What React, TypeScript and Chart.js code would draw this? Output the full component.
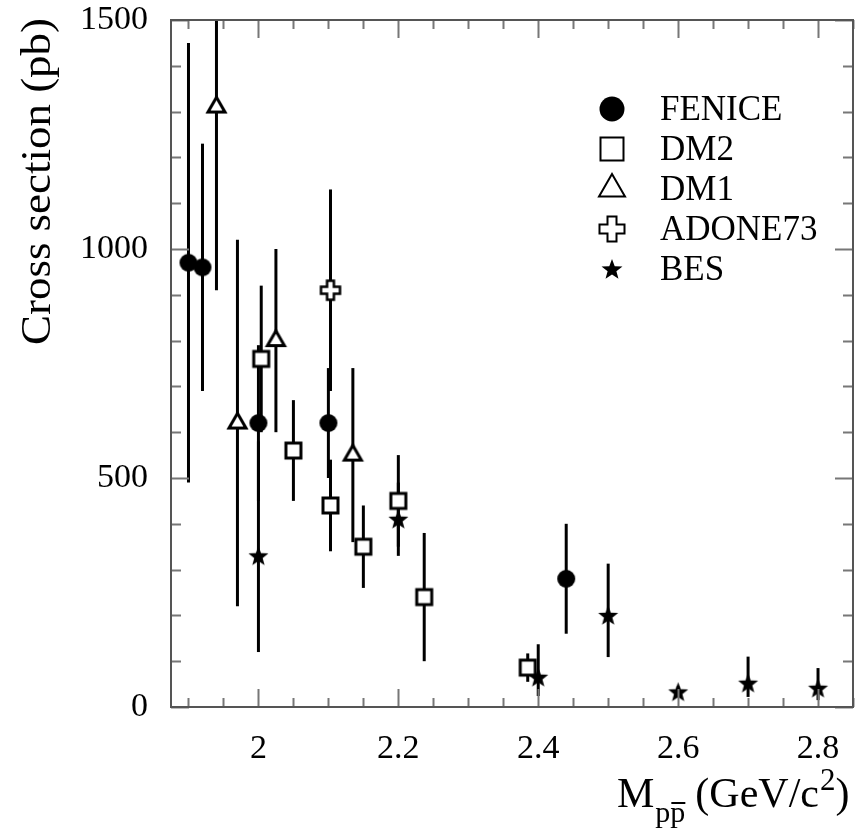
import React, { useEffect, useRef } from "react";
import { Chart, registerables } from "chart.js";

Chart.register(...registerables);

// ---------- data ----------
const FENICE_X = [1.9, 1.92, 2.0, 2.1, 2.44];
const FENICE_Y = [970, 960, 620, 620, 280];
const FENICE_UP = [480, 270, 170, 120, 120];
const FENICE_DN = [480, 270, 170, 120, 120];

const DM2_X = [2.004, 2.05, 2.103, 2.15, 2.2, 2.237, 2.385];
const DM2_Y = [760, 560, 440, 350, 450, 240, 86];
const DM2_UP = [160, 110, 100, 90, 100, 140, 31];
const DM2_DN = [160, 110, 100, 90, 100, 140, 31];

const DM1_X = [1.94, 1.97, 2.025, 2.135];
const DM1_Y = [1310, 620, 800, 550];
const DM1_UP = [400, 400, 200, 190];
const DM1_DN = [400, 400, 200, 190];

const ADONE_X = [2.103];
const ADONE_Y = [910];
const ADONE_UP = [220];
const ADONE_DN = [220];

const BES_X = [2.0, 2.2, 2.4, 2.5, 2.6, 2.7, 2.8];
const BES_Y = [330, 410, 65, 200, 33, 52, 41];
const BES_UP = [250, 80, 72, 113, 12, 58, 44];
const BES_DN = [210, 80, 41, 91, 12, 30, 26];

const SERIES_NAMES = ["FENICE", "DM2", "DM1", "ADONE73", "BES"];
const X_TICKS = [2.0, 2.2, 2.4, 2.6, 2.8];
const Y_TICKS = [0, 500, 1000, 1500];
const X_MIN = 1.875;
const X_MAX = 2.85;
const Y_MIN = 0;
const Y_MAX = 1500;
const Y_TITLE = "Cross section (pb)";

const FONT = "'Liberation Serif', 'DejaVu Serif', serif";

type MarkerType = "circle" | "square" | "triangle" | "cross" | "star";

function drawMarker(ctx: CanvasRenderingContext2D, type: MarkerType, x: number, y: number, s: number, lw: number) {
  ctx.save();
  ctx.lineWidth = lw;
  ctx.strokeStyle = "#000";
  ctx.lineJoin = "miter";
  ctx.beginPath();
  if (type === "circle") {
    ctx.arc(x, y, s / 2, 0, Math.PI * 2);
    ctx.fillStyle = "#000";
    ctx.fill();
  } else if (type === "square") {
    ctx.rect(x - s / 2, y - s / 2, s, s);
    ctx.fillStyle = "#fff";
    ctx.fill();
    ctx.stroke();
  } else if (type === "triangle") {
    const h = s * 0.866;
    ctx.moveTo(x, y - (h * 2) / 3);
    ctx.lineTo(x + s / 2, y + h / 3);
    ctx.lineTo(x - s / 2, y + h / 3);
    ctx.closePath();
    ctx.fillStyle = "#fff";
    ctx.fill();
    ctx.stroke();
  } else if (type === "cross") {
    const r = s / 2;
    const a = s * 0.18;
    const pts = [
      [-a, -r], [a, -r], [a, -a], [r, -a], [r, a], [a, a],
      [a, r], [-a, r], [-a, a], [-r, a], [-r, -a], [-a, -a],
    ];
    pts.forEach((p, i) => (i === 0 ? ctx.moveTo(x + p[0], y + p[1]) : ctx.lineTo(x + p[0], y + p[1])));
    ctx.closePath();
    ctx.fillStyle = "#fff";
    ctx.fill();
    ctx.stroke();
  } else if (type === "star") {
    const R = s / 2;
    const ri = R * 0.42;
    for (let i = 0; i < 10; i++) {
      const ang = -Math.PI / 2 + (i * Math.PI) / 5;
      const rr = i % 2 === 0 ? R : ri;
      const px = x + rr * Math.cos(ang);
      const py = y + rr * Math.sin(ang) + R * 0.08;
      if (i === 0) ctx.moveTo(px, py);
      else ctx.lineTo(px, py);
    }
    ctx.closePath();
    ctx.fillStyle = "#000";
    ctx.fill();
  }
  ctx.restore();
}

function markerCanvas(type: MarkerType, s: number, lw: number): HTMLCanvasElement {
  const c = document.createElement("canvas");
  const d = Math.ceil(s + lw * 2 + 4);
  c.width = d;
  c.height = d;
  const ctx = c.getContext("2d")!;
  drawMarker(ctx, type, d / 2, d / 2, s, lw);
  return c;
}

function toPoints(xs: number[], ys: number[], up: number[], dn: number[]) {
  return xs.map((x, i) => ({ x, y: ys[i], up: up[i], dn: dn[i] }));
}

const framePlugin = {
  id: "frameAndExtras",
  beforeDatasetsDraw(chart: any) {
    const { ctx, scales } = chart;
    const xs = scales.x;
    const ys = scales.y;
    ctx.save();
    ctx.strokeStyle = "#000";
    ctx.lineWidth = 3;
    ctx.lineCap = "butt";
    chart.data.datasets.forEach((ds: any) => {
      ds.data.forEach((p: any) => {
        const px = xs.getPixelForValue(p.x);
        const top = Math.max(ys.getPixelForValue(p.y + p.up), chart.chartArea.top);
        const bot = Math.min(ys.getPixelForValue(p.y - p.dn), chart.chartArea.bottom);
        ctx.beginPath();
        ctx.moveTo(px, top);
        ctx.lineTo(px, bot);
        ctx.stroke();
      });
    });
    ctx.restore();
  },
  afterDraw(chart: any) {
    const { ctx, scales, chartArea } = chart;
    const { left, right, top, bottom } = chartArea;
    const xs = scales.x;
    const ys = scales.y;
    ctx.save();
    // ticks
    ctx.strokeStyle = "#777";
    ctx.lineWidth = 2;
    for (let k = 38; k <= 57; k++) {
      const v = k * 0.05;
      const px = Math.round(xs.getPixelForValue(v)) + 0.5;
      const major = k % 4 === 0;
      const len = major ? 18 : 9;
      ctx.beginPath();
      ctx.moveTo(px, bottom);
      ctx.lineTo(px, bottom - len);
      ctx.moveTo(px, top);
      ctx.lineTo(px, top + len);
      ctx.stroke();
    }
    for (let k = 0; k <= 15; k++) {
      const v = k * 100;
      const py = Math.round(ys.getPixelForValue(v)) + 0.5;
      const major = k % 5 === 0;
      const len = major ? 18 : 10;
      ctx.beginPath();
      ctx.moveTo(left, py);
      ctx.lineTo(left + len, py);
      ctx.moveTo(right, py);
      ctx.lineTo(right - len, py);
      ctx.stroke();
    }
    // frame
    ctx.strokeStyle = "#555";
    ctx.lineWidth = 2;
    ctx.strokeRect(left, top, right - left, bottom - top);

    // y title
    ctx.fillStyle = "#000";
    ctx.save();
    ctx.font = `42px ${FONT}`;
    const tw = ctx.measureText(Y_TITLE).width;
    ctx.translate(50, 345);
    ctx.rotate(-Math.PI / 2);
    ctx.scale(327 / tw, 1);
    ctx.textAlign = "left";
    ctx.textBaseline = "alphabetic";
    ctx.fillText(Y_TITLE, 0, 0);
    ctx.restore();

    // x title: M_{p p̄} (GeV/c^2)
    ctx.save();
    ctx.textBaseline = "alphabetic";
    ctx.textAlign = "left";
    let x = 617;
    const base = 807;
    ctx.font = `42px ${FONT}`;
    ctx.fillText("M", x, base);
    x += ctx.measureText("M").width + 1;
    ctx.font = `30px ${FONT}`;
    ctx.fillText("pp", x, base + 15);
    const pw = ctx.measureText("p").width;
    ctx.fillRect(x + pw + 1, base - 5, pw - 1, 2);
    x += ctx.measureText("pp").width + 10;
    ctx.font = `42px ${FONT}`;
    ctx.fillText("(GeV/c", x, base);
    x += ctx.measureText("(GeV/c").width + 1;
    ctx.font = `31px ${FONT}`;
    ctx.fillText("2", x, base - 17);
    x += ctx.measureText("2").width;
    ctx.font = `42px ${FONT}`;
    ctx.fillText(")", x, base);
    ctx.restore();

    // legend
    const types: MarkerType[] = ["circle", "square", "triangle", "cross", "star"];
    const sizes = [25, 23, 26, 25, 22];
    ctx.font = `35px ${FONT}`;
    ctx.textAlign = "left";
    ctx.textBaseline = "alphabetic";
    SERIES_NAMES.forEach((name, i) => {
      const b = 120 + i * 40;
      drawMarker(ctx, types[i], 612, b - 11, sizes[i], 2);
      ctx.fillStyle = "#000";
      ctx.fillText(name, 660, b);
    });
    ctx.restore();
  },
};

export default function App() {
  const ref = useRef<HTMLCanvasElement | null>(null);
  useEffect(() => {
    if (!ref.current) return;
    const font = { family: FONT, size: 34 };
    const chart = new Chart(ref.current, {
      type: "scatter",
      data: {
        datasets: [
          { label: SERIES_NAMES[0], data: toPoints(FENICE_X, FENICE_Y, FENICE_UP, FENICE_DN), pointStyle: markerCanvas("circle", 18, 2) as any },
          { label: SERIES_NAMES[1], data: toPoints(DM2_X, DM2_Y, DM2_UP, DM2_DN), pointStyle: markerCanvas("square", 15, 3) as any },
          { label: SERIES_NAMES[2], data: toPoints(DM1_X, DM1_Y, DM1_UP, DM1_DN), pointStyle: markerCanvas("triangle", 17, 3) as any },
          { label: SERIES_NAMES[3], data: toPoints(ADONE_X, ADONE_Y, ADONE_UP, ADONE_DN), pointStyle: markerCanvas("cross", 19, 2.5) as any },
          { label: SERIES_NAMES[4], data: toPoints(BES_X, BES_Y, BES_UP, BES_DN), pointStyle: markerCanvas("star", 21, 1) as any },
        ] as any,
      },
      options: {
        animation: false,
        responsive: false,
        maintainAspectRatio: false,
        devicePixelRatio: 1,
        layout: { padding: { top: 20, right: 1, left: 0, bottom: 0 } },
        plugins: { legend: { display: false }, tooltip: { enabled: false } },
        scales: {
          x: {
            type: "linear",
            min: X_MIN,
            max: X_MAX,
            afterFit: (s: any) => {
              s.height = 122;
              s.paddingLeft = 0;
              s.paddingRight = 0;
              s.paddingTop = 0;
              s.paddingBottom = 0;
            },
            afterBuildTicks: (s: any) => { s.ticks = X_TICKS.map((v) => ({ value: v })); },
            grid: { display: false, drawTicks: false },
            border: { display: false },
            ticks: {
              font,
              color: "#000",
              padding: 22,
              autoSkip: false,
              maxRotation: 0,
              callback: (v: any) => String(Math.round(Number(v) * 10) / 10),
            },
          },
          y: {
            type: "linear",
            min: Y_MIN,
            max: Y_MAX,
            afterFit: (s: any) => {
              s.width = 171;
              s.paddingLeft = 0;
              s.paddingRight = 0;
              s.paddingTop = 0;
              s.paddingBottom = 0;
            },
            afterBuildTicks: (s: any) => { s.ticks = Y_TICKS.map((v) => ({ value: v })); },
            grid: { display: false, drawTicks: false },
            border: { display: false },
            ticks: {
              font,
              color: "#000",
              padding: 23,
              autoSkip: false,
              callback: (v: any) => String(v),
            },
          },
        },
      } as any,
      plugins: [framePlugin],
    });
    return () => chart.destroy();
  }, []);
  return (
    <div style={{ position: "fixed", left: 0, top: 0, width: 858, height: 829, background: "#fff" }}>
      <canvas ref={ref} width={858} height={829} style={{ display: "block", width: 858, height: 829 }} />
    </div>
  );
}
